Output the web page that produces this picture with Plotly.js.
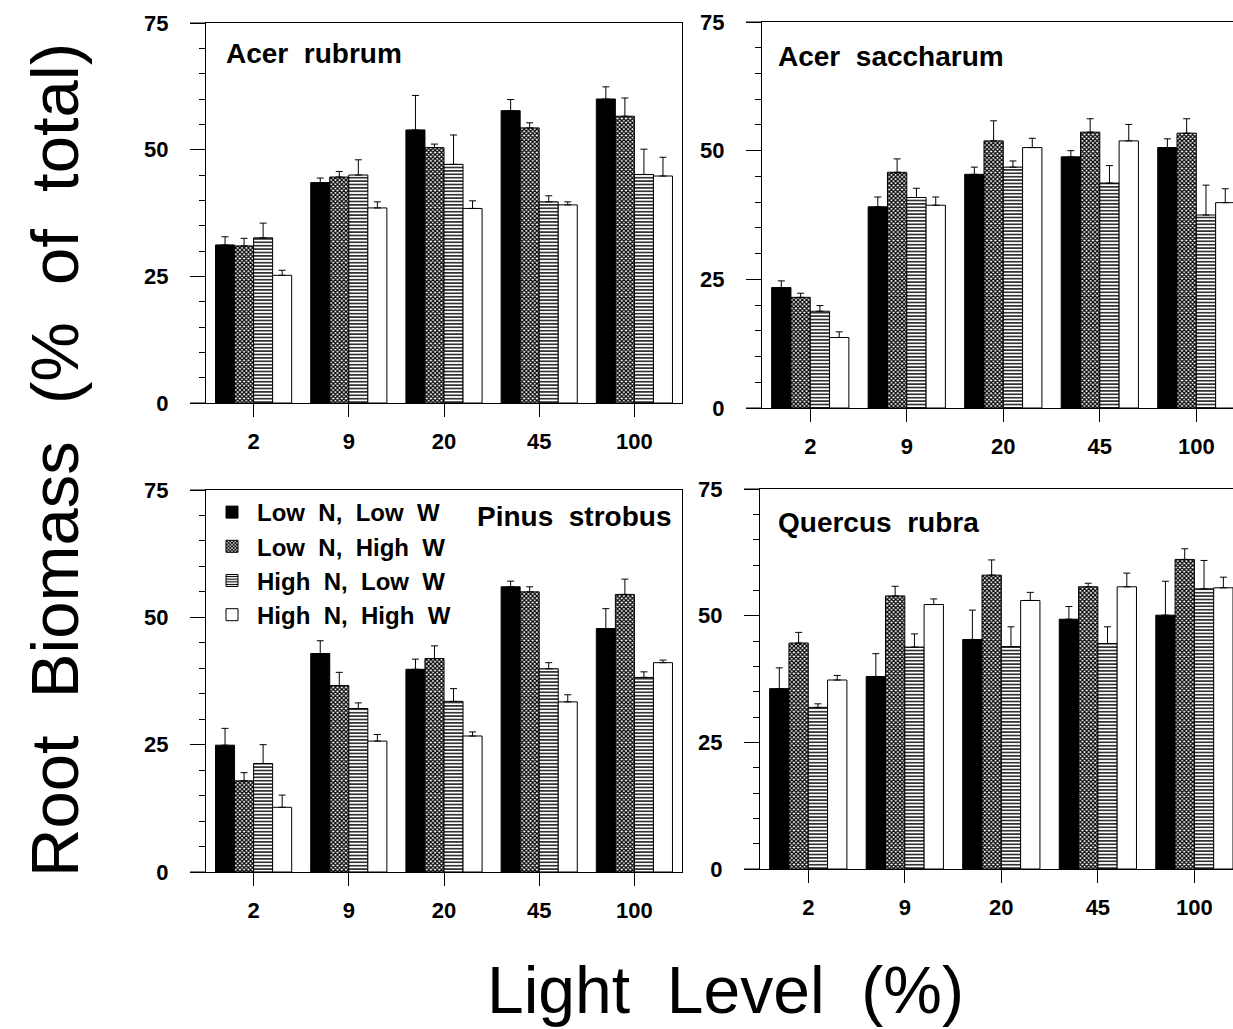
<!DOCTYPE html>
<html><head><meta charset="utf-8">
<script src="https://cdn.plot.ly/plotly-3.0.1.min.js"></script>
<style>body{margin:0;background:#fff}#plot{width:1233px;height:1029px}</style>
</head><body><div id="plot"></div>
<script>
// ---- data ----
const categories = ['2', '9', '20', '45', '100'];
const seriesNames = ['Low\u00a0\u00a0N,\u00a0\u00a0Low\u00a0\u00a0W', 'Low\u00a0\u00a0N,\u00a0\u00a0High\u00a0\u00a0W', 'High\u00a0\u00a0N,\u00a0\u00a0Low\u00a0\u00a0W', 'High\u00a0\u00a0N,\u00a0\u00a0High\u00a0\u00a0W'];
const panelTitles = ['Acer\u00a0\u00a0rubrum', 'Acer\u00a0\u00a0saccharum', 'Pinus\u00a0\u00a0strobus', 'Quercus\u00a0\u00a0rubra'];
const yTickVals = [0, 25, 50, 75];

const acerRubrumLNLW = [31.2, 43.5, 53.9, 57.7, 60.0];
const acerRubrumLNLWErr = [1.6, 0.9, 6.8, 2.2, 2.4];
const acerRubrumLNHW = [31.0, 44.6, 50.4, 54.3, 56.6];
const acerRubrumLNHWErr = [1.5, 1.1, 0.7, 1.0, 3.6];
const acerRubrumHNLW = [32.6, 45.0, 47.1, 39.7, 45.1];
const acerRubrumHNLWErr = [2.9, 3.0, 5.8, 1.2, 5.0];
const acerRubrumHNHW = [25.2, 38.5, 38.4, 39.1, 44.8];
const acerRubrumHNHWErr = [1.0, 1.2, 1.5, 0.6, 3.7];

const acerSaccharumLNLW = [23.4, 39.1, 45.4, 48.8, 50.6];
const acerSaccharumLNLWErr = [1.3, 1.9, 1.4, 1.2, 1.7];
const acerSaccharumLNHW = [21.5, 45.8, 51.9, 53.6, 53.4];
const acerSaccharumLNHWErr = [0.8, 2.6, 3.9, 2.6, 2.8];
const acerSaccharumHNLW = [18.8, 40.9, 46.8, 43.7, 37.5];
const acerSaccharumHNLWErr = [1.1, 1.8, 1.2, 3.4, 5.8];
const acerSaccharumHNHW = [13.7, 39.4, 50.6, 51.9, 39.9];
const acerSaccharumHNHWErr = [1.1, 1.6, 1.8, 3.2, 2.7];

const pinusStrobusLNLW = [24.9, 42.9, 39.8, 56.0, 47.8];
const pinusStrobusLNLWErr = [3.3, 2.5, 2.0, 1.1, 3.9];
const pinusStrobusLNHW = [17.9, 36.6, 41.9, 55.0, 54.5];
const pinusStrobusLNHWErr = [1.6, 2.6, 2.5, 1.0, 3.0];
const pinusStrobusHNLW = [21.3, 32.1, 33.5, 39.9, 38.2];
const pinusStrobusHNLWErr = [3.7, 1.1, 2.5, 1.2, 1.1];
const pinusStrobusHNHW = [12.7, 25.7, 26.7, 33.4, 41.1];
const pinusStrobusHNHWErr = [2.4, 1.3, 0.8, 1.4, 0.5];

const quercusRubraLNLW = [35.6, 38.0, 45.3, 49.3, 50.1];
const quercusRubraLNLWErr = [4.1, 4.5, 5.8, 2.5, 6.7];
const quercusRubraLNHW = [44.6, 53.9, 58.0, 55.7, 61.1];
const quercusRubraLNHWErr = [2.1, 1.9, 3.0, 0.7, 2.1];
const quercusRubraHNLW = [31.9, 43.8, 43.9, 44.5, 55.3];
const quercusRubraHNLWErr = [0.7, 2.6, 3.9, 3.3, 5.6];
const quercusRubraHNHW = [37.3, 52.2, 53.0, 55.7, 55.5];
const quercusRubraHNHWErr = [0.9, 1.1, 1.6, 2.7, 2.1];

// ---- layout geometry (pixels) ----
const W = 1233, H = 1029;
const px = v => v / W;
const py = v => 1 - v / H;
const FONT = 'Liberation Sans, Arial, Helvetica, sans-serif';

const panels = [
  {vals: [acerRubrumLNLW, acerRubrumLNHW, acerRubrumHNLW, acerRubrumHNHW],
   errs: [acerRubrumLNLWErr, acerRubrumLNHWErr, acerRubrumHNLWErr, acerRubrumHNHWErr],
   x0: 206, x1: 682, yZero: 403, yTop: 23, xr: [-0.5, 4.5], title: panelTitles[0], tx: 224, ty: 54, anchor: 'left'},
  {vals: [acerSaccharumLNLW, acerSaccharumLNHW, acerSaccharumHNLW, acerSaccharumHNHW],
   errs: [acerSaccharumLNLWErr, acerSaccharumLNHWErr, acerSaccharumHNLWErr, acerSaccharumHNHWErr],
   x0: 762, x1: 1233, yZero: 408, yTop: 22, xr: [-0.5, 4.38], title: panelTitles[1], tx: 776, ty: 57, anchor: 'left'},
  {vals: [pinusStrobusLNLW, pinusStrobusLNHW, pinusStrobusHNLW, pinusStrobusHNHW],
   errs: [pinusStrobusLNLWErr, pinusStrobusLNHWErr, pinusStrobusHNLWErr, pinusStrobusHNHWErr],
   x0: 206, x1: 682, yZero: 872, yTop: 490, xr: [-0.5, 4.5], title: panelTitles[2], tx: 673, ty: 516, anchor: 'right'},
  {vals: [quercusRubraLNLW, quercusRubraLNHW, quercusRubraHNLW, quercusRubraHNHW],
   errs: [quercusRubraLNLWErr, quercusRubraLNHWErr, quercusRubraHNLWErr, quercusRubraHNHWErr],
   x0: 760, x1: 1233, yZero: 869, yTop: 489, xr: [-0.5, 4.40], title: panelTitles[3], tx: 776, ty: 522, anchor: 'left'}
];

const markers = [
  {color: '#000000', line: {color: '#000', width: 1}},
  {color: '#ffffff', line: {color: '#000', width: 1}, pattern: {shape: 'x', size: 3, solidity: 0.65, fgcolor: '#000', bgcolor: '#fff', fillmode: 'replace'}},
  {color: '#ffffff', line: {color: '#000', width: 1}, pattern: {shape: '-', size: 3.4, solidity: 0.4, fgcolor: '#000', bgcolor: '#fff', fillmode: 'replace'}},
  {color: '#ffffff', line: {color: '#000', width: 1}}
];

const traces = [];
const layout = {
  width: W, height: H,
  margin: {l: 0, r: 0, t: 0, b: 0},
  paper_bgcolor: '#fff', plot_bgcolor: 'rgba(0,0,0,0)',
  barmode: 'group', bargap: 0.2, bargroupgap: 0,
  font: {family: FONT, color: '#000'},
  showlegend: true,
  legend: {
    x: px(207), y: py(490), xanchor: 'left', yanchor: 'top',
    bgcolor: 'rgba(0,0,0,0)', borderwidth: 0,
    font: {family: FONT, size: 24, weight: 'bold', color: '#000'},
    tracegroupgap: 0, itemwidth: 40, traceorder: 'normal'
  },
  annotations: [], shapes: []
};

panels.forEach((p, i) => {
  const n = i + 1;
  const xa = 'xaxis' + (i === 0 ? '' : n), ya = 'yaxis' + (i === 0 ? '' : n);
  const xr = 'x' + (i === 0 ? '' : n), yr = 'y' + (i === 0 ? '' : n);
  for (let s = 0; s < 4; s++) {
    traces.push({
      type: 'bar', x: categories, y: p.vals[s], name: seriesNames[s],
      xaxis: xr, yaxis: yr, marker: markers[s],
      showlegend: i === 2, legendgroup: 's' + s,
      error_y: {type: 'data', symmetric: false, array: p.errs[s], arrayminus: p.vals[s].map(() => 0),
                color: '#000', thickness: 1, width: 3.5}
    });
  }
  layout[xa] = {
    domain: [px(p.x0), px(p.x1)], anchor: yr, range: p.xr, type: 'category',
    showline: true, linecolor: '#000', linewidth: 1, mirror: true,
    ticks: 'outside', ticklen: 13, tickcolor: '#000', tickwidth: 1,
    ticklabelstandoff: 6,
    tickfont: {family: FONT, size: 22, weight: 'bold', color: '#000'},
    showgrid: false, zeroline: false, fixedrange: true
  };
  layout[ya] = {
    domain: [py(p.yZero), py(p.yTop)], anchor: xr, range: [0, 75],
    tickvals: yTickVals, ticktext: yTickVals.map(String),
    showline: true, linecolor: '#000', linewidth: 1, mirror: true,
    ticks: 'outside', ticklen: 15, tickcolor: '#000', tickwidth: 1,
    ticklabelstandoff: 17,
    minor: {dtick: 5, tick0: 0, ticks: 'outside', ticklen: 6, tickcolor: '#000', tickwidth: 1, showgrid: false},
    tickfont: {family: FONT, size: 22, weight: 'bold', color: '#000'},
    showgrid: false, zeroline: false, fixedrange: true
  };
  layout.annotations.push({
    text: p.title, xref: 'paper', yref: 'paper', x: px(p.tx), y: py(p.ty),
    xanchor: p.anchor, yanchor: 'middle', showarrow: false,
    font: {family: FONT, size: 28, weight: 'bold', color: '#000'}
  });
  // short extensions of the top frame and the zero line to the left of the y axis
  [p.yZero, p.yTop].forEach(yy => {
    layout.shapes.push({type: 'line', xref: 'paper', yref: 'paper',
      x0: px(p.x0 - 16), x1: px(p.x0), y0: py(yy), y1: py(yy), line: {color: '#000', width: 1}});
  });
});

layout.annotations.push({
  text: 'Root\u00a0\u00a0Biomass\u00a0\u00a0(%\u00a0\u00a0of\u00a0\u00a0total)', xref: 'paper', yref: 'paper',
  x: px(54), y: py(460), xanchor: 'center', yanchor: 'middle', textangle: -90, showarrow: false,
  font: {family: FONT, size: 67, color: '#000'}
});
layout.annotations.push({
  text: 'Light\u00a0\u00a0Level\u00a0\u00a0(%)', xref: 'paper', yref: 'paper',
  x: px(726), y: 0, xanchor: 'center', yanchor: 'bottom', showarrow: false,
  font: {family: FONT, size: 66, color: '#000'}
});

Plotly.newPlot('plot', traces, layout, {staticPlot: true, displayModeBar: false});
</script>
</body></html>
